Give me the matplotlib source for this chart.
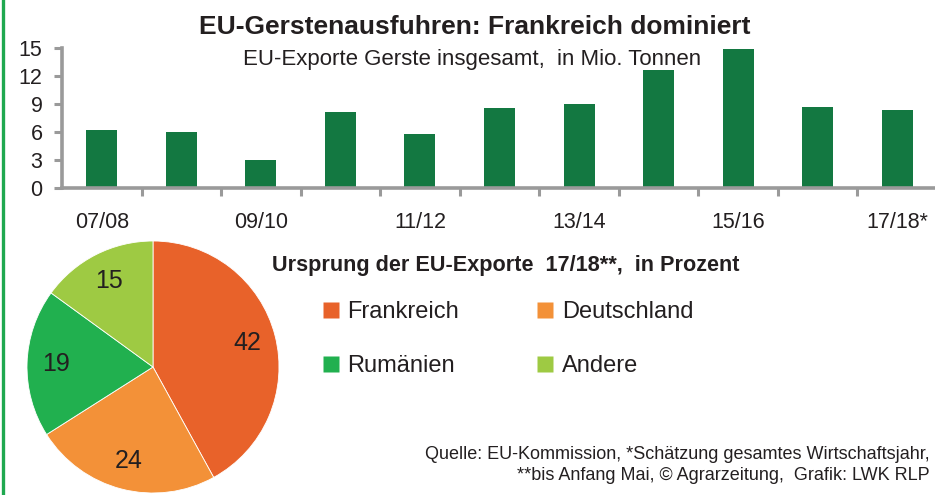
import matplotlib
matplotlib.use("Agg")
import matplotlib.pyplot as plt
from matplotlib.lines import Line2D

# Data
seasons = ["07/08", "08/09", "09/10", "10/11", "11/12", "12/13",
           "13/14", "14/15", "15/16", "16/17", "17/18*"]
exports = [6.2, 6.0, 3.0, 8.1, 5.8, 8.6, 9.0, 12.6, 14.9, 8.7, 8.4]
yticks = [0, 3, 6, 9, 12, 15]

origin_labels = ["Frankreich", "Deutschland", "Rumänien", "Andere"]
origin_shares = [42, 24, 19, 15]
origin_colors = ["#E8622A", "#F39138", "#21B04F", "#9ECA43"]

bar_color = "#137841"
axis_gray = "#9A9A9A"
text_col = "#231F20"

plt.rcParams['font.family'] = ['Liberation Sans', 'DejaVu Sans']
plt.rcParams['text.color'] = text_col

W, H = 935, 495
fig = plt.figure(figsize=(W / 100, H / 100), dpi=100)


def px(x0, y0, x1, y1):
    # pixel box (top-left origin) -> figure fraction rect
    return [x0 / W, 1 - y1 / H, (x1 - x0) / W, (y1 - y0) / H]


# --- bar chart ---
ax = fig.add_axes(px(62, 48, 937, 188))
x = list(range(len(seasons)))
ax.bar(x, exports, width=0.39, color=bar_color, zorder=2)
ax.set_xlim(-0.5, len(seasons) - 0.5)
ax.set_ylim(0, 15)
ax.set_yticks(yticks)
ax.set_xticks(x[::2])
ax.set_xticklabels(seasons[::2])
ax.set_xticks([i + 0.5 for i in x[:-1]], minor=True)

for s in ["top", "right"]:
    ax.spines[s].set_visible(False)
for s in ["left", "bottom"]:
    ax.spines[s].set_color(axis_gray)
    ax.spines[s].set_linewidth(2.6)
ax.spines["bottom"].set_zorder(3)

ax.tick_params(axis="y", length=6, width=2.2, color=axis_gray, pad=8,
               labelsize=15.5, labelcolor=text_col)
ax.tick_params(axis="x", which="major", length=0, pad=17,
               labelsize=15.5, labelcolor=text_col)
ax.tick_params(axis="x", which="minor", length=6, width=2.2,
               color=axis_gray, direction="out")
ax.patch.set_alpha(0)

fig.text(475 / W, 1 - 27 / H, "EU-Gerstenausfuhren: Frankreich dominiert",
         ha="center", va="center", fontsize=19, fontweight="bold")
fig.text(472 / W, 1 - 60 / H, "EU-Exporte Gerste insgesamt,  in Mio. Tonnen",
         ha="center", va="center", fontsize=16)

# --- pie chart ---
pax = fig.add_axes(px(27, 241, 279, 493))
wedges, _, autotexts = pax.pie(
    origin_shares, colors=origin_colors, startangle=90, counterclock=False,
    autopct=lambda p: f"{p:.0f}", pctdistance=0.77,
    wedgeprops=dict(edgecolor="white", linewidth=0.6),
    textprops=dict(fontsize=18, color=text_col))
pax.set_xlim(-1, 1)
pax.set_ylim(-1, 1)
pax.set_aspect("equal")

fig.text(272 / W, 1 - 265 / H, "Ursprung der EU-Exporte  17/18**,  in Prozent",
         ha="left", va="center", fontsize=15.6, fontweight="bold")

order = [0, 2, 1, 3]
handles = [Line2D([], [], marker="s", linestyle="none", markersize=12,
                  markerfacecolor=origin_colors[i], markeredgecolor="none")
           for i in order]
fig.legend(handles, [origin_labels[i] for i in order], ncol=2,
           loc="upper left", bbox_to_anchor=(318 / W, 1 - 301 / H),
           frameon=False, fontsize=17, handletextpad=0.15,
           columnspacing=3.1, labelspacing=1.35, handlelength=1.1,
           borderaxespad=0, borderpad=0)

fig.text(930 / W, 1 - 465 / H,
         "Quelle: EU-Kommission, *Schätzung gesamtes Wirtschaftsjahr,\n"
         "**bis Anfang Mai, © Agrarzeitung,  Grafik: LWK RLP",
         ha="right", va="center", multialignment="right", fontsize=13,
         linespacing=1.3)

# green frame line on the left
fig.add_artist(Line2D([3 / W, 3 / W], [0, 1], color="#1FA84F", linewidth=2.4,
                      transform=fig.transFigure))

fig.savefig("out.png", dpi=100)
